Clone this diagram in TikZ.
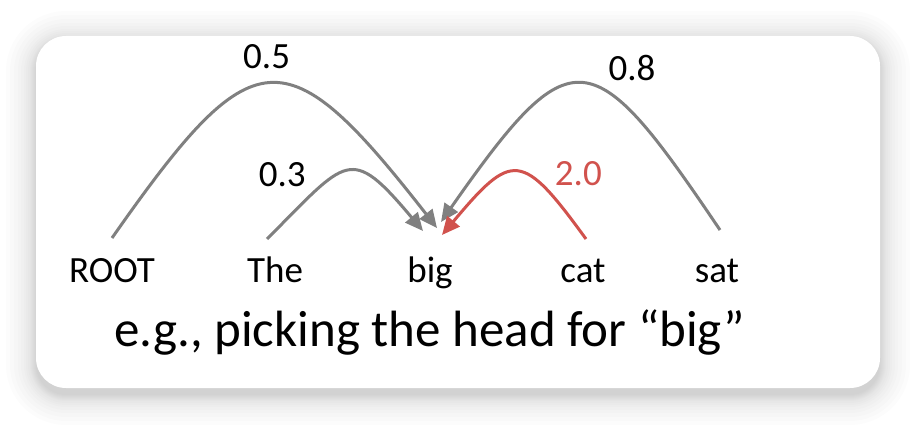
\documentclass[tikz,border=0pt]{standalone}
\usepackage{fontspec}
\setmainfont{Carlito}
\usepackage{tikz}
\usetikzlibrary{positioning, arrows.meta}
\definecolor{arcgray}{RGB}{128,128,128}
\definecolor{arcred}{RGB}{209,82,77}
\tikzset{card/.style={fill=white, rounded corners=30pt}}
\tikzset{word/.style={anchor=base, inner sep=0pt, font=\fontsize{37}{44}\selectfont}}
\tikzset{score/.style={anchor=base, inner sep=0pt, font=\fontsize{37}{44}\selectfont}}
\tikzset{capt/.style={anchor=base, inner sep=0pt, font=\fontsize{51}{60}\selectfont}}
\tikzset{arr/.style={draw=arcgray, line width=3pt, -{Triangle[length=18pt, width=16pt]}}}

\begin{document}
\begin{tikzpicture}[x=1pt, y=1pt]
    \useasboundingbox[fill=white] (0,0) rectangle (916,424);
    % soft shadow under the card
    \foreach \r in {0,1,2,3,4,5,6,8,10,12,15,18,22,26,30}
        \fill[black, opacity=0.013, rounded corners={30+\r}] (36-\r,29-\r) rectangle (880+\r,383+\r);
    \fill[card] (36,36) rectangle (880,388);

    \node[word] (ROOT) at (112,142) {ROOT};
    \node[word] (The) at (275,142) {The};
    \node[word] (big) at (430,142) {big};
    \node[word] (cat) at (583,142) {cat};
    \node[word] (sat) at (717,142) {sat};
    \node[capt] (caption) at ([yshift=-64pt]big.base) {e.g., picking the head for “big”};

    \draw[arr] ([yshift=44pt]ROOT.base) to[out=55, in=128, looseness=1.94]
        node[score, pos=0.5, xshift=-4pt, yshift=16pt] (s05) {0.5}
        ([xshift=7pt, yshift=54pt]big.base);
    \draw[arr] ([xshift=-8pt, yshift=43pt]The.base) to[out=45, in=130, looseness=1.87]
        node[score, pos=0.2, xshift=-25pt, yshift=12pt] (s03) {0.3}
        ([xshift=-7pt, yshift=51pt]big.base);
    \draw[arr] ([xshift=3pt, yshift=52pt]sat.base) to[out=124, in=55, looseness=2.1]
        node[score, pos=0.3, xshift=4pt, yshift=28pt] (s08) {0.8}
        ([xshift=11pt, yshift=60pt]big.base);
    \draw[arr, draw=arcred] ([xshift=3pt, yshift=43pt]cat.base) to[out=126, in=50, looseness=1.94]
        node[score, text=arcred, pos=0.15, xshift=18pt, yshift=20pt] (s20) {2.0}
        ([xshift=12pt, yshift=47pt]big.base);
\end{tikzpicture}
\end{document}
